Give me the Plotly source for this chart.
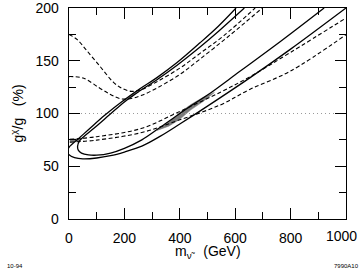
import plotly.graph_objects as go

# ---------------- data ----------------
# outer solid contour
s_out_x = [603, 540, 473, 389, 320, 256, 200, 130, 80, 40, 0, -6, 0, 20, 50, 100, 150, 200, 263, 330, 400, 500, 654, 800, 1000]
s_out_y = [200, 183, 167, 148, 134.5, 123.5, 113, 98.5, 87, 77.5, 68, 64.5, 61, 58.2, 57, 57.8, 60, 63.5, 69, 78.5, 90, 107, 134, 161, 200]

# inner solid contour
s_in_x = [633, 540, 473, 389, 320, 256, 200, 145, 90, 55, 38, 31, 34, 45, 70, 100, 150, 200, 263, 330, 400, 450, 500, 617, 762, 921]
s_in_y = [200, 178, 163, 145.5, 132.5, 121.5, 111, 98.5, 86, 78.5, 74, 69, 65, 62.5, 60.8, 60.5, 62.5, 67, 75, 87, 100, 109, 117.5, 140, 168, 200]

# dashed curves, upper family
d1_x = [0, 30, 63, 111, 159, 190, 225, 260, 320, 400, 473, 560, 672]
d1_y = [175, 170, 160, 145, 130, 124, 121, 122.5, 130.5, 143, 157, 174, 200]
d2_x = [0, 51, 111, 150, 185, 220, 260, 320, 400, 473, 580, 698]
d2_y = [135, 133.6, 124, 118, 114, 114, 117, 124.5, 137, 151.6, 174, 200]

# dashed curves, lower family
d3_x = [3, 100, 263, 400, 545, 654, 800, 1000]
d3_y = [75.6, 78, 86, 102, 120, 135, 158, 190.5]
d4_x = [3, 100, 263, 400, 545, 654, 798, 1000]
d4_y = [72.8, 74.8, 82, 94, 108, 123, 140, 174.7]

# shaded overlap regions
g_low_x = [318, 360, 400, 440, 485, 525, 485, 440, 400, 360, 318]
g_low_y = [84, 92, 101, 108.5, 115.5, 120, 111.5, 103.5, 94.5, 88, 84]
g_up_x = [196, 230, 260, 230, 196]
g_up_y = [111.5, 119, 124, 116, 111.5]
g_vx_x = [3, 36, 40, 3]
g_vx_y = [72.8, 73.6, 76, 75.6]

ref_x = [0, 1000]
ref_y = [100, 100]

x_ticks = [0, 200, 400, 600, 800, 1000]
x_tick_text = ["0", "200", "400", "600", "800", ""]
x_last_label = "1000"
y_ticks = [0, 50, 100, 150, 200]

# ---------------- figure ----------------
fig = go.Figure()
GRAY = "#7a7a7a"
for gx, gy in [(g_low_x, g_low_y), (g_up_x, g_up_y), (g_vx_x, g_vx_y)]:
    fig.add_trace(go.Scatter(x=gx, y=gy, mode="lines", fill="toself",
                             fillcolor=GRAY, line=dict(width=0.5, color=GRAY), hoverinfo="skip"))

fig.add_trace(go.Scatter(x=ref_x, y=ref_y, mode="lines",
                         line=dict(color="#9a9a9a", width=1, dash="1px,3px")))

for cx, cy in [(s_out_x, s_out_y), (s_in_x, s_in_y)]:
    fig.add_trace(go.Scatter(x=cx, y=cy, mode="lines",
                             line=dict(color="black", width=1.3, shape="spline", smoothing=1.0)))
for cx, cy in [(d1_x, d1_y), (d2_x, d2_y), (d3_x, d3_y), (d4_x, d4_y)]:
    fig.add_trace(go.Scatter(x=cx, y=cy, mode="lines",
                             line=dict(color="black", width=1.1, shape="spline", smoothing=1.0,
                                       dash="4px,2.5px")))

axis_common = dict(showgrid=False, zeroline=False, showline=True, linecolor="black",
                   linewidth=1.3, mirror="ticks", ticks="inside", ticklen=11,
                   tickwidth=1, tickcolor="black", ticklabeloverflow="allow",
                   automargin=False,
                   tickfont=dict(family="Arial", size=14, color="black"))

fig.update_xaxes(range=[0, 1000], tickvals=x_ticks, ticktext=x_tick_text, ticklabelstandoff=6,
                 minor=dict(dtick=100, tick0=0, ticks="inside", ticklen=7, tickcolor="black"),
                 **axis_common)
fig.update_yaxes(range=[0, 200], tickvals=y_ticks, ticklabelstandoff=6,
                 minor=dict(dtick=25, tick0=0, ticks="inside", ticklen=7, tickcolor="black"),
                 **axis_common)

fig.update_layout(
    width=359, height=272, showlegend=False,
    margin=dict(l=69, r=13, t=8, b=53),
    plot_bgcolor="white", paper_bgcolor="white",
    annotations=[
        dict(text=x_last_label, xref="x", yref="paper", x=x_ticks[-1], y=-0.079,
             xanchor="center", yanchor="middle", xshift=-5, showarrow=False,
             font=dict(family="Arial", size=14, color="black")),
        dict(text="m<sub>ν̃</sub>   (GeV)", xref="paper", yref="paper", x=0.5, y=-0.155,
             xanchor="center", yanchor="middle", showarrow=False,
             font=dict(family="Arial", size=14, color="black")),
        dict(text="g<sup>χ</sup>/g   (%)", xref="paper", yref="paper", x=-0.188, y=0.5,
             xanchor="center", yanchor="middle", showarrow=False, textangle=-90,
             font=dict(family="Arial", size=14, color="black")),
        dict(text="10-94", xref="paper", yref="paper", x=-0.195, y=-0.223,
             xanchor="center", yanchor="middle", showarrow=False,
             font=dict(family="Arial", size=6, color="black")),
        dict(text="7990A10", xref="paper", yref="paper", x=1.0, y=-0.223,
             xanchor="center", yanchor="middle", showarrow=False,
             font=dict(family="Arial", size=6, color="black")),
    ],
)

fig.write_html("out.html", config={"displayModeBar": False, "staticPlot": True})
with open("out.html", "r", encoding="utf-8") as f:
    html = f.read()
html = html.replace("<head>", "<head><style>html,body{margin:0;padding:0;overflow:hidden;}</style>", 1)
with open("out.html", "w", encoding="utf-8") as f:
    f.write(html)
